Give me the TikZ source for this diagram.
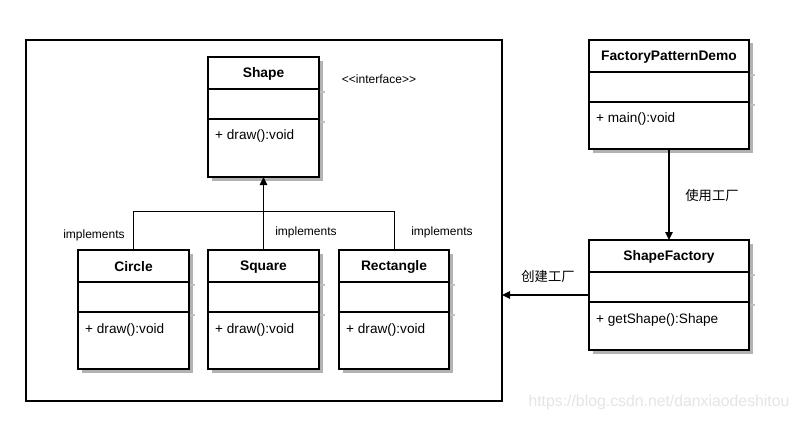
\documentclass[tikz,border=0pt]{standalone}
\usepackage{fontspec}
\setmainfont{Liberation Sans}[Ligatures=TeXOff]
\newfontfamily\cjk{Noto Sans CJK SC}
\usetikzlibrary{arrows.meta,shadows}
\tikzset{
  classbox/.style={draw=black, line width=1.8pt, fill=white, inner sep=0pt, outer sep=0pt,
    drop shadow={shadow xshift=3.5pt, shadow yshift=-3.5pt, fill=black!30, opacity=1}},
  divider/.style={line width=1.6pt},
  dividershadow/.style={line width=1.2pt, draw=black!25},
  titletext/.style={font=\bfseries\fontsize{13.8}{16}\selectfont},
  membertext/.style={font=\fontsize{13.6}{16}\selectfont, anchor=west, inner sep=0pt},
  labeltext/.style={font=\fontsize{12}{14}\selectfont, inner sep=0pt},
  cjktext/.style={font=\cjk\fontsize{13.3}{15}\selectfont, inner sep=0pt},
  connector/.style={line width=0.8pt},
  arrowline/.style={line width=1.4pt, -{Triangle[length=8pt,width=7.5pt]}},
  frame/.style={draw=black, line width=1.4pt, inner sep=0pt, outer sep=0pt}
}
\newcommand{\umlclass}[6]{%
  % #1 name, #2 x, #3 y, #4 width, #5 height, #6 title
  \node (#1) [classbox, anchor=north west, minimum width=#4pt, minimum height=#5pt] at (#2,#3) {};
  \draw[dividershadow] ([xshift=1pt,yshift=-35pt]#1.north east) -- ++(5,0);
  \draw[dividershadow] ([xshift=1pt,yshift=-65pt]#1.north east) -- ++(5,0);
  \draw[divider] ([yshift=-32pt]#1.north west) -- ([yshift=-32pt]#1.north east);
  \draw[divider] ([yshift=-62pt]#1.north west) -- ([yshift=-62pt]#1.north east);
  \node (#1title) [titletext] at ([yshift=-17pt]#1.north) {#6};
}
\begin{document}
\begin{tikzpicture}[x=1pt,y=-1pt]
\useasboundingbox[fill=white] (0,0) rectangle (799,420);

\node (frame) [frame, anchor=north west, minimum width=476pt, minimum height=361pt] at (26,40) {};

\umlclass{shape}{208}{57}{111}{120}{Shape}
\node (shapem) [membertext] at ([xshift=7pt,yshift=-78.5pt]shape.north west) {+ draw():void};
\node (iface) [labeltext] at (379,79) {<\kern0pt<interface>\kern0pt>};

\umlclass{circle}{78}{250}{111}{119}{Circle}
\node (circlem) [membertext] at ([xshift=7pt,yshift=-79.5pt]circle.north west) {+ draw():void};
\umlclass{square}{208}{250}{111}{119}{Square}
\node (squarem) [membertext] at ([xshift=7pt,yshift=-79.5pt]square.north west) {+ draw():void};
\umlclass{rect}{339}{250}{110}{119}{Rectangle}
\node (rectm) [membertext] at ([xshift=7pt,yshift=-79.5pt]rect.north west) {+ draw():void};

\umlclass{demo}{589}{40}{160}{109}{FactoryPatternDemo}
\node (demom) [membertext] at ([xshift=7pt,yshift=-79pt]demo.north west) {+ main():void};
\umlclass{factory}{589}{240}{160}{110}{ShapeFactory}
\node (factorym) [membertext] at ([xshift=7pt,yshift=-80pt]factory.north west) {+ getShape():Shape};

% implements connectors
\draw[connector] (circle.north) -- ++(0,-39) -| (rect.north);
\draw[arrowline] (square.north) -- (shape.south);
\node (impl1) [labeltext] at (94,235) {implements};
\node (impl2) [labeltext] at (306,232) {implements};
\node (impl3) [labeltext] at (442,232) {implements};

% factory connectors
\draw[arrowline] (demo.south) -- (factory.north);
\node (use) [cjktext] at (712,195) {使用工厂};
\draw[arrowline] (factory.west) -- (factory.west -| frame.east);
\node (create) [cjktext] at (548,276) {创建工厂};

\node (wm) [font=\fontsize{15.8}{18}\selectfont, text=black!10, inner sep=0pt] at (659,402) {https://blog.csdn.net/danxiaodeshitou};
\end{tikzpicture}
\end{document}
